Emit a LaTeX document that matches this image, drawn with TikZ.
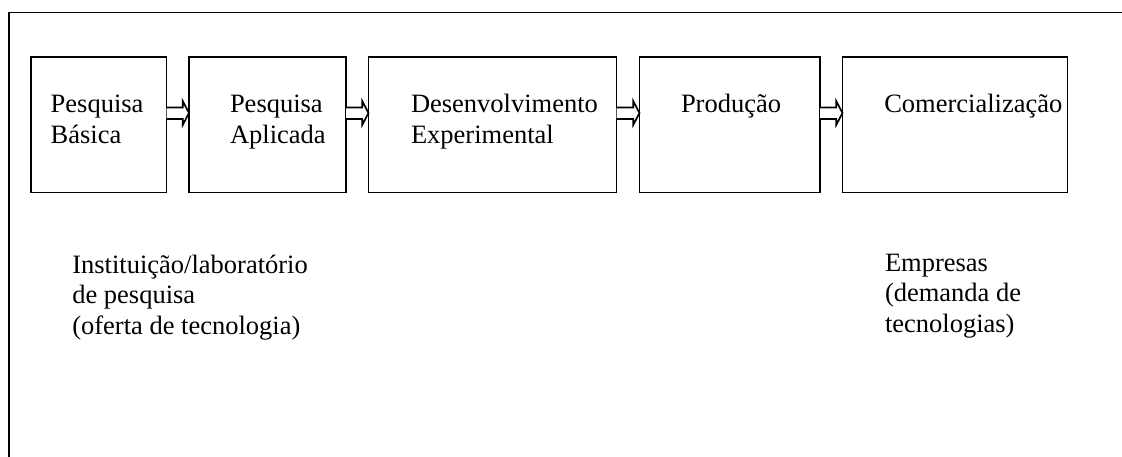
\documentclass[tikz,border=0pt]{standalone}
\usepackage{fontspec}
\setmainfont{Liberation Serif}
\usetikzlibrary{calc}
\newcommand{\mlines}[1]{\begin{tabular}[t]{@{}l@{}}#1\end{tabular}}
\tikzset{
  stagebox/.style={draw=black, line width=1.7pt, rectangle, inner sep=0pt, outer sep=0pt},
  lbl/.style={anchor=base west, inner sep=0pt, outer sep=0pt, font=\fontsize{26.5}{30.6}\selectfont},
  blockarr/.style={draw=black, fill=white, line width=1.7pt, line join=miter},
  frame/.style={draw=black, line width=1.8pt}
}
\begin{document}
\begin{tikzpicture}[x=1pt,y=-1pt]
\useasboundingbox (0,0) rectangle (1122,456);
\clip (0,0) rectangle (1122,456);
\draw[frame] (9,12.5) rectangle (1140,470);
% boxes
\node[stagebox, minimum width=135.5pt, minimum height=135.5pt] (b1) at (98.75,124.75) {};
\node[stagebox, minimum width=157pt, minimum height=135.5pt] (b2) at (267.5,124.75) {};
\node[stagebox, minimum width=248pt, minimum height=135.5pt] (b3) at (492.5,124.75) {};
\node[stagebox, minimum width=180.5pt, minimum height=135.5pt] (b4) at (729.75,124.75) {};
\node[stagebox, minimum width=225pt, minimum height=135.5pt] (b5) at (955,124.75) {};
% texts
\node[lbl] (t1) at (50.7,112.7) {\mlines{Pesquisa\\Básica}};
\node[lbl] (t2) at (230,112.7) {\mlines{Pesquisa\\Aplicada}};
\node[lbl] (t3) at (411,112.7) {\mlines{Desenvolvimento\\Experimental}};
\node[lbl] (t4) at (681,112.7) {Produção};
\node[lbl] (t5) at (884.3,112.7) {Comercialização};
\node[lbl] (t6) at (72.3,273.3) {\mlines{Instituição/laboratório\\de pesquisa\\(oferta de tecnologia)}};
\node[lbl] (t7) at (885,271) {\mlines{Empresas\\(demanda de\\tecnologias)}};
% block arrows
\foreach \a/\b in {b1/b2,b2/b3,b3/b4,b4/b5}{
  \draw[blockarr] let \p1=(\a.east), \p2=(\b.west) in
    (\x1,107.5) -- (\x2-6.3pt,107.5) -- (\x2-6.3pt,101) -- (\x2,113) --
    (\x2-6.3pt,125) -- (\x2-6.3pt,119) -- (\x1,119);
}
\end{tikzpicture}
\end{document}
